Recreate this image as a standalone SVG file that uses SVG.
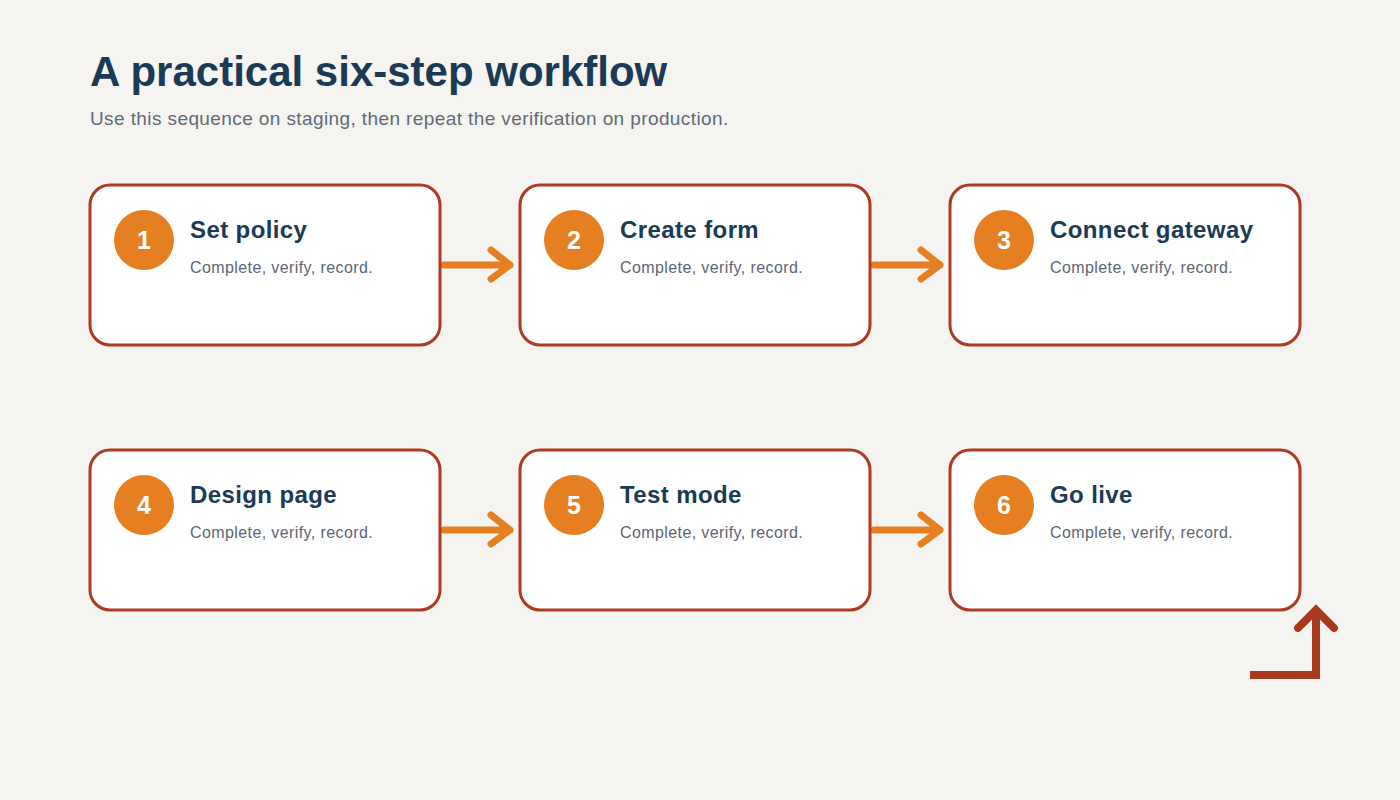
<svg xmlns="http://www.w3.org/2000/svg" width="1400" height="800" viewBox="0 0 1400 800">
<style>
.card{fill:#ffffff;stroke:#ad3b22;stroke-width:3}
.badge{fill:#e67f22}
.num{font-family:"Liberation Sans",Arial,sans-serif;font-weight:bold;font-size:25px;fill:#ffffff;text-anchor:middle}
.ttl{font-family:"Liberation Sans",Arial,sans-serif;font-weight:bold;font-size:24px;letter-spacing:0.4px;fill:#1b3a56}
.sub{font-family:"Liberation Sans",Arial,sans-serif;font-size:16px;letter-spacing:0.4px;fill:#5d6673}
.conn{fill:none;stroke:#e67f22;stroke-width:7;stroke-linecap:round;stroke-linejoin:round}
.loop{fill:none;stroke:#a93a1f;stroke-width:8;stroke-linejoin:miter}
</style>
<rect width="1400" height="800" fill="#f6f4f0"/>
<text x="90" y="86" font-family="'Liberation Sans',Arial,sans-serif" font-weight="bold" font-size="42" fill="#1b3a56">A practical six-step workflow</text>
<text x="90" y="125" font-family="'Liberation Sans',Arial,sans-serif" font-size="19" letter-spacing="0.4" fill="#5f6b77">Use this sequence on staging, then repeat the verification on production.</text>
<g id="connectors">
<path class="conn" d="M444 265H510M491 250L510 265L491 279"/>
<path class="conn" d="M874 265H940M921 250L940 265L921 279"/>
<path class="conn" d="M444 530H510M491 515L510 530L491 544"/>
<path class="conn" d="M874 530H940M921 515L940 530L921 544"/>
<path class="loop" d="M1250 675H1316V612"/>
<path class="loop" d="M1298 628L1316 610L1334 628" stroke-linecap="round" stroke-linejoin="round"/>
</g>
<g id="step1"><rect class="card" x="90" y="185" width="350" height="160" rx="20"/><circle class="badge" cx="144" cy="240" r="30"/><text class="num" x="144" y="249">1</text><text class="ttl" x="190" y="238">Set policy</text><text class="sub" x="190" y="273">Complete, verify, record.</text></g>
<g id="step2"><rect class="card" x="520" y="185" width="350" height="160" rx="20"/><circle class="badge" cx="574" cy="240" r="30"/><text class="num" x="574" y="249">2</text><text class="ttl" x="620" y="238">Create form</text><text class="sub" x="620" y="273">Complete, verify, record.</text></g>
<g id="step3"><rect class="card" x="950" y="185" width="350" height="160" rx="20"/><circle class="badge" cx="1004" cy="240" r="30"/><text class="num" x="1004" y="249">3</text><text class="ttl" x="1050" y="238">Connect gateway</text><text class="sub" x="1050" y="273">Complete, verify, record.</text></g>
<g id="step4"><rect class="card" x="90" y="450" width="350" height="160" rx="20"/><circle class="badge" cx="144" cy="505" r="30"/><text class="num" x="144" y="514">4</text><text class="ttl" x="190" y="503">Design page</text><text class="sub" x="190" y="538">Complete, verify, record.</text></g>
<g id="step5"><rect class="card" x="520" y="450" width="350" height="160" rx="20"/><circle class="badge" cx="574" cy="505" r="30"/><text class="num" x="574" y="514">5</text><text class="ttl" x="620" y="503">Test mode</text><text class="sub" x="620" y="538">Complete, verify, record.</text></g>
<g id="step6"><rect class="card" x="950" y="450" width="350" height="160" rx="20"/><circle class="badge" cx="1004" cy="505" r="30"/><text class="num" x="1004" y="514">6</text><text class="ttl" x="1050" y="503">Go live</text><text class="sub" x="1050" y="538">Complete, verify, record.</text></g>
</svg>
